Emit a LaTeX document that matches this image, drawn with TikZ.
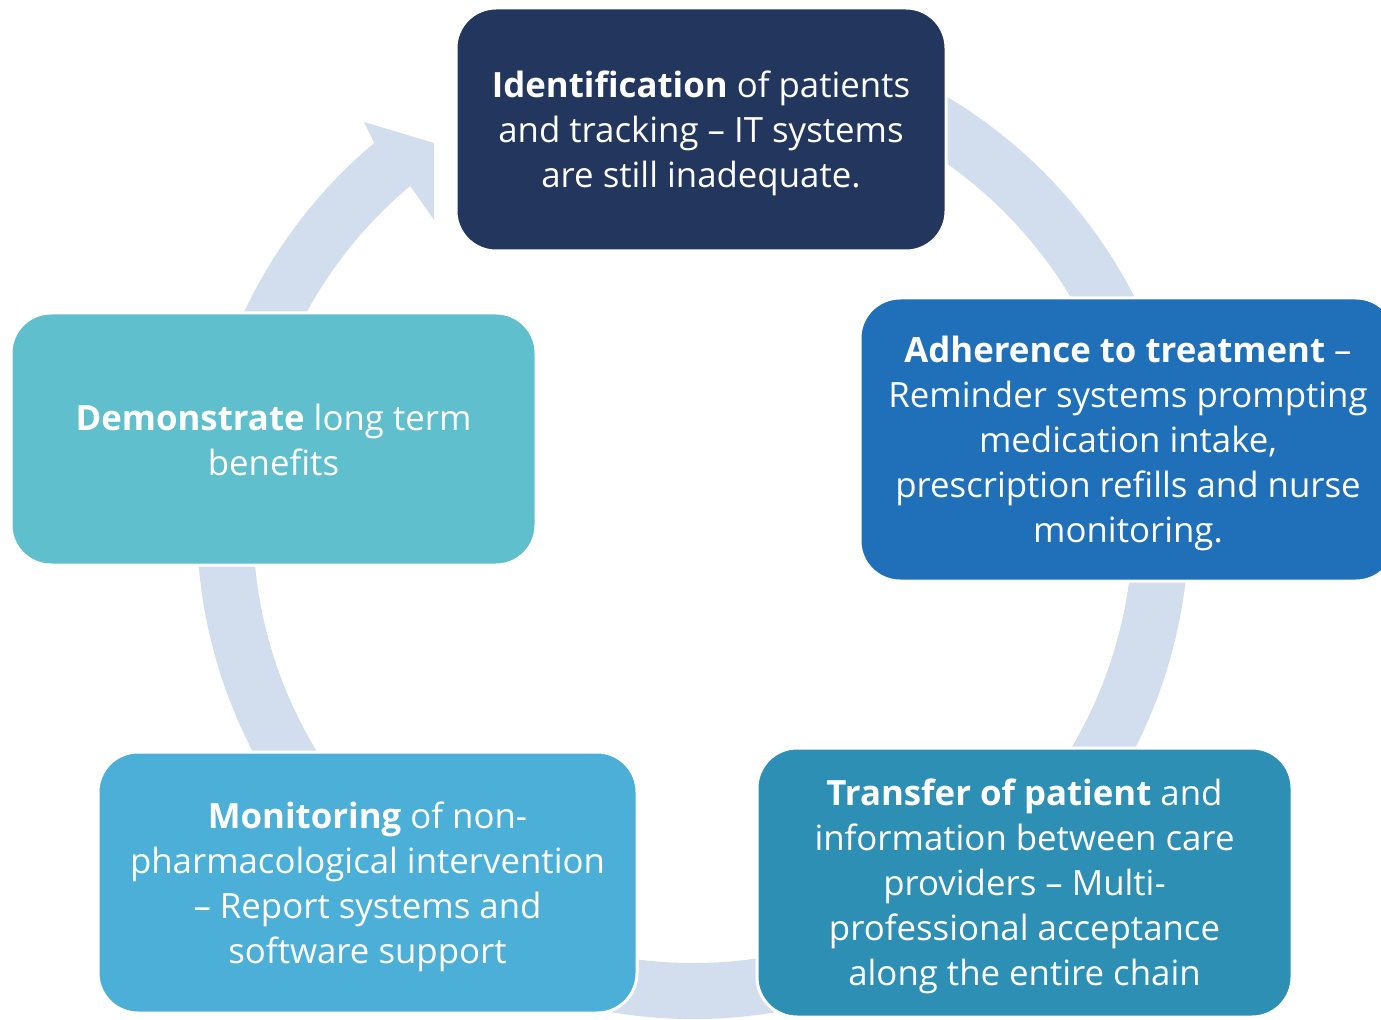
\documentclass[tikz,border=0pt]{standalone}
\usepackage{fontspec}
\setmainfont{Open Sans}
\usetikzlibrary{calc}
\definecolor{ringc}{HTML}{D2DEEE}
\definecolor{navyc}{HTML}{22365E}
\definecolor{bluec}{HTML}{1F70B8}
\definecolor{tealc}{HTML}{2E8FB5}
\definecolor{skyc}{HTML}{4BAFD8}
\definecolor{aquac}{HTML}{60BFCC}
\begin{document}
\begin{tikzpicture}[x=0.5pt,y=0.5pt,
  stage/.style={draw=white, line width=1.5pt, rounded corners=20pt,
    inner sep=0pt},
  stagetext/.style={text=white, align=center, inner sep=0pt, yshift=-2pt,
    font=\fontsize{17.4}{22.5}\selectfont}]
\useasboundingbox (0,0) rectangle (1381,1019);
\clip (0,0) rectangle (1381,1019);
% circular band with arrowhead
\coordinate (C) at (693,496);
\fill[ringc] ($(C)+(80:496)$) arc[start angle=80,end angle=-230,radius=496]
  -- (364,897) -- (434,876) -- (434,799)
  -- ($(C)+(-230:440)$) arc[start angle=-230,end angle=80,radius=440] -- cycle;
% stages
\node[stage, fill=navyc, minimum width=245pt, minimum height=121.5pt] (ident) at (701,889.5) {};
\node[stagetext] (identtxt) at (ident) {\textbf{Identification} of patients\\and tracking – IT systems\\are still inadequate.};
\node[stage, fill=bluec, minimum width=268pt, minimum height=141.5pt] (adher) at (1128,579.5) {};
\node[stagetext] (adhertxt) at (adher) {\textbf{Adherence to treatment} –\\Reminder systems prompting\\medication intake,\\prescription refills and nurse\\monitoring.};
\node[stage, fill=tealc, minimum width=267.5pt, minimum height=134.5pt] (transf) at (1024.5,136.5) {};
\node[stagetext] (transftxt) at (transf) {\textbf{Transfer of patient} and\\information between care\\providers – Multi-\\professional acceptance\\along the entire chain};
\node[stage, fill=skyc, minimum width=269.5pt, minimum height=130.5pt] (monit) at (367.5,136.5) {};
\node[stagetext] (monittxt) at (monit) {\textbf{Monitoring} of non-\\pharmacological intervention\\– Report systems and\\software support};
\node[stage, fill=aquac, minimum width=262.5pt, minimum height=126pt] (demo) at (273.5,580) {};
\node[stagetext] (demotxt) at ([yshift=1.5pt]demo.center) {\textbf{Demonstrate} long term\\benefits};
\end{tikzpicture}
\end{document}
